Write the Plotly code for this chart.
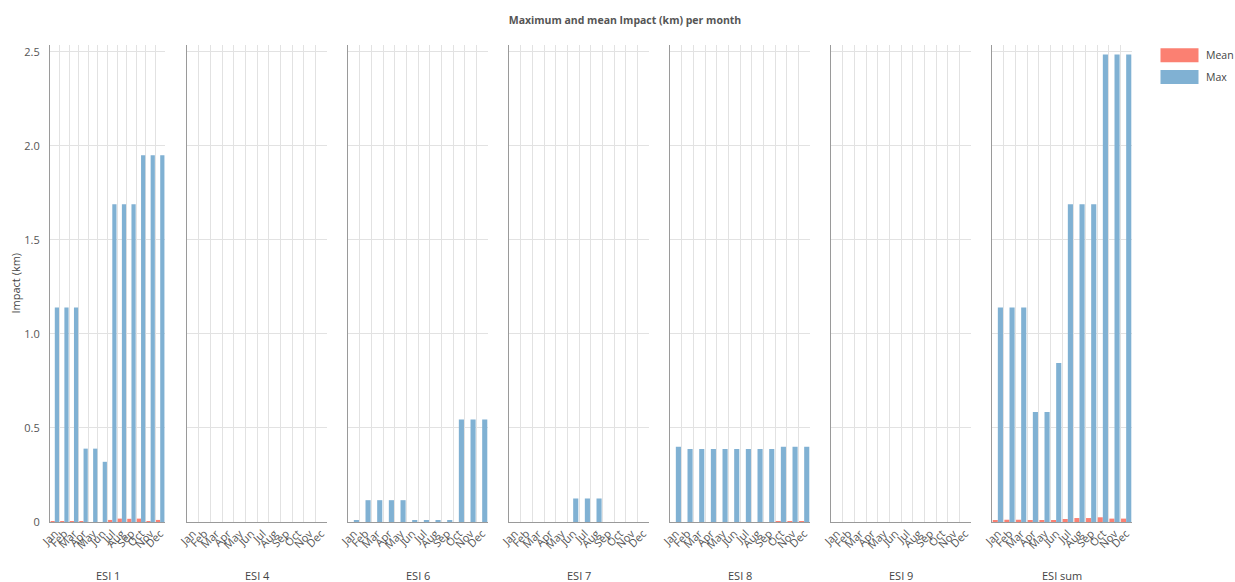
import plotly.graph_objects as go

# Monthly categories and the seven ESI panels
months = ["Jan", "Feb", "Mar", "Apr", "May", "Jun",
          "Jul", "Aug", "Sep", "Oct", "Nov", "Dec"]
panels = ["ESI 1", "ESI 4", "ESI 6", "ESI 7", "ESI 8", "ESI 9", "ESI sum"]

# Maximum impact (km) per month, one list per panel
max_esi1 = [1.14, 1.14, 1.14, 0.39, 0.39, 0.32, 1.69, 1.69, 1.69, 1.95, 1.95, 1.95]
max_esi4 = [0, 0, 0, 0, 0, 0, 0, 0, 0, 0, 0, 0]
max_esi6 = [0.009, 0.116, 0.116, 0.116, 0.116, 0.009, 0.009, 0.009, 0.009, 0.545, 0.545, 0.545]
max_esi7 = [0, 0, 0, 0, 0, 0.125, 0.125, 0.125, 0, 0, 0, 0]
max_esi8 = [0.40, 0.388, 0.388, 0.388, 0.388, 0.388, 0.388, 0.388, 0.388, 0.40, 0.40, 0.40]
max_esi9 = [0, 0, 0, 0, 0, 0, 0, 0, 0, 0, 0, 0]
max_sum = [1.14, 1.14, 1.14, 0.585, 0.585, 0.845, 1.69, 1.69, 1.69, 2.485, 2.485, 2.485]

# Mean impact (km) per month
mean_esi1 = [0.005, 0.005, 0.005, 0.005, 0, 0, 0.011, 0.018, 0.017, 0.018, 0.005, 0.011]
mean_esi4 = [0, 0, 0, 0, 0, 0, 0, 0, 0, 0, 0, 0]
mean_esi6 = [0, 0, 0, 0, 0, 0, 0, 0, 0, 0, 0, 0]
mean_esi7 = [0, 0, 0, 0, 0, 0, 0, 0, 0, 0, 0, 0]
mean_esi8 = [0, 0, 0, 0, 0, 0, 0, 0, 0, 0.005, 0.005, 0.005]
mean_esi9 = [0, 0, 0, 0, 0, 0, 0, 0, 0, 0, 0, 0]
mean_sum = [0.007, 0.012, 0.012, 0.007, 0.007, 0.007, 0.016, 0.021, 0.021, 0.025, 0.018, 0.018]

max_values = [max_esi1, max_esi4, max_esi6, max_esi7, max_esi8, max_esi9, max_sum]
mean_values = [mean_esi1, mean_esi4, mean_esi6, mean_esi7, mean_esi8, mean_esi9, mean_sum]

y_ticks = [0, 0.5, 1.0, 1.5, 2.0, 2.5]
y_tick_text = ["0", "0.5", "1.0", "1.5", "2.0", "2.5"]

MEAN_COLOR = "#fb8072"
MAX_COLOR = "#80b1d3"
GRID = "#e2e2e2"
AXIS = "#9a9a9a"
TEXT = "#555555"
FONT = "Open Sans"

W, H = 1235, 582
ML, MR, MT, MB = 50, 103, 45, 60
plot_w = W - ML - MR
plot_h = H - MT - MB

# Pixel extents of each panel inside the plotting area
panel_left = [50, 187, 348, 509, 670, 831, 992]
panel_width = [115, 140, 140, 140, 140, 140, 140]

band_pos = [i + 0.5 for i in range(len(months))]
band_starts = [i for i in range(len(months))]


def px_x(v):
    return (v - ML) / plot_w


def px_y(v):
    return (H - MB - v) / plot_h


fig = go.Figure()
layout = {}
for k, name in enumerate(panels):
    n = "" if k == 0 else str(k + 1)
    xa, ya = "x" + n, "y" + n
    fig.add_trace(go.Bar(x=band_pos, y=mean_values[k], name="Mean",
                         marker=dict(color=MEAN_COLOR, line=dict(width=0)),
                         xaxis=xa, yaxis=ya, showlegend=False))
    fig.add_trace(go.Bar(x=band_pos, y=max_values[k], name="Max",
                         marker=dict(color=MAX_COLOR, line=dict(width=0)),
                         xaxis=xa, yaxis=ya, showlegend=False))
    d0 = px_x(panel_left[k])
    d1 = px_x(panel_left[k] + panel_width[k])
    layout["xaxis" + n] = dict(
        domain=[d0, d1], range=[0, len(months)], anchor=ya,
        tickvals=band_pos, ticktext=months, tickangle=-45,
        showgrid=False, zeroline=False, showline=True, linecolor=AXIS,
        linewidth=1, ticks="", tickfont=dict(family=FONT, size=11, color=TEXT),
        minor=dict(tickvals=band_starts, showgrid=True, gridcolor=GRID,
                   gridwidth=1, ticks=""),
        fixedrange=True,
    )
    layout["yaxis" + n] = dict(
        domain=[0, 1], range=[0, 2.536], anchor=xa,
        tickvals=y_ticks, ticktext=y_tick_text,
        showticklabels=(k == 0), showgrid=True, gridcolor=GRID, gridwidth=1,
        zeroline=False, showline=True, linecolor=AXIS, linewidth=1,
        ticks="", ticklabelstandoff=7,
        tickfont=dict(family=FONT, size=11, color=TEXT),
        fixedrange=True,
    )

fig.update_layout(**layout)

annotations = []
for k, name in enumerate(panels):
    cx = px_x(panel_left[k] + panel_width[k] / 2)
    annotations.append(dict(text=name, xref="paper", yref="paper", x=cx,
                            y=px_y(575), xanchor="center",
                            yanchor="middle", showarrow=False,
                            font=dict(family=FONT, size=11, color="#444444")))

# Y axis title
annotations.append(dict(text="Impact (km)", xref="paper", yref="paper",
                        x=px_x(15), y=0.5, textangle=-90,
                        xanchor="center", yanchor="middle", showarrow=False,
                        font=dict(family=FONT, size=11, color="#444444")))

# Legend drawn as swatches with labels
shapes = []
legend_items = [("Mean", MEAN_COLOR, 48.3), ("Max", MAX_COLOR, 70)]
for label, color, top in legend_items:
    shapes.append(dict(type="rect", xref="paper", yref="paper",
                       x0=px_x(1160.5), x1=px_x(1198.5),
                       y0=px_y(top + 14), y1=px_y(top),
                       fillcolor=color, line=dict(width=0)))
    annotations.append(dict(text=label, xref="paper", yref="paper",
                            x=px_x(1204), y=px_y(top + 7), xanchor="left",
                            yanchor="middle", showarrow=False,
                            font=dict(family=FONT, size=10.5, color="#444444")))

fig.update_layout(
    width=W, height=H,
    margin=dict(l=ML, r=MR, t=MT, b=MB),
    paper_bgcolor="white", plot_bgcolor="white",
    barmode="group", bargap=0.12, bargroupgap=0,
    showlegend=False,
    title=dict(text="<b>Maximum and mean Impact (km) per month</b>",
               x=625 / W, xanchor="center", y=1 - 20 / H, yanchor="middle",
               font=dict(family=FONT, size=10.5, color=TEXT)),
    annotations=annotations, shapes=shapes,
)

fig.write_html("out.html")
